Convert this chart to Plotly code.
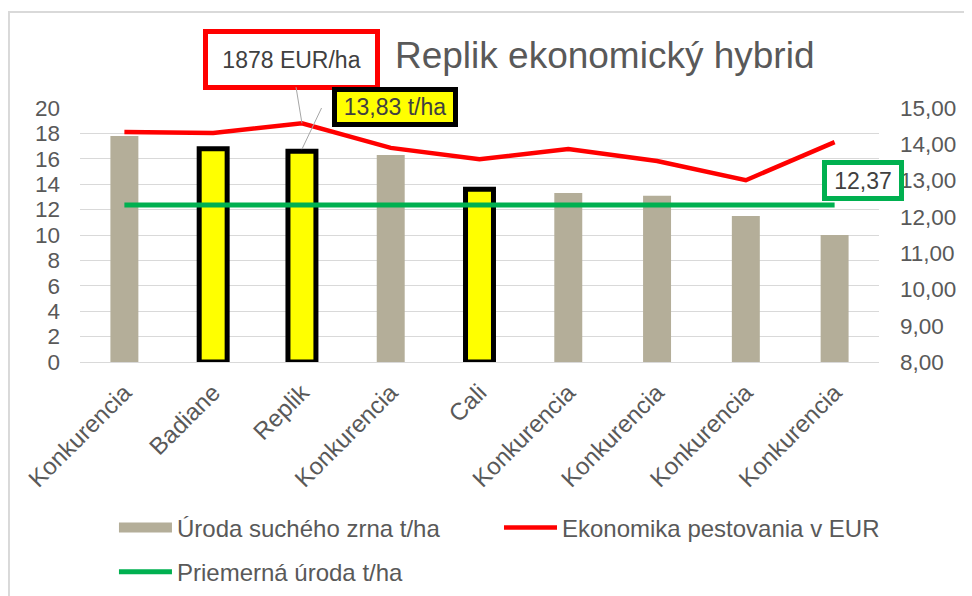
import plotly.graph_objects as go

# ---- data ----
categories = ["Konkurencia", "Badiane", "Replik", "Konkurencia", "Cali",
              "Konkurencia", "Konkurencia", "Konkurencia", "Konkurencia"]
yield_t_ha = [17.8, 16.8, 16.6, 16.3, 13.6, 13.3, 13.1, 11.5, 10.0]
economics = [14.34, 14.31, 14.58, 13.90, 13.59, 13.87, 13.54, 13.01, 14.06]
avg_yield = [12.37, 12.37, 12.37, 12.37, 12.37, 12.37, 12.37, 12.37, 12.37]
highlight = [False, True, True, False, True, False, False, False, False]

left_ticks = [0, 2, 4, 6, 8, 10, 12, 14, 16, 18, 20]
right_ticks = [8, 9, 10, 11, 12, 13, 14, 15]

label_eur = "1878 EUR/ha"
label_replik = "13,83 t/ha"
label_avg = "12,37"

name_yield = "Úroda suchého zrna t/ha"
name_econ = "Ekonomika pestovania v EUR"
name_avg = "Priemerná úroda t/ha"

# ---- styles ----
FONT = "Liberation Sans, Arial, sans-serif"
GREY_TXT = "#595959"
DARK_TXT = "#404040"
BAR_GREY = "#B4AE99"
YELLOW = "#FFFF00"
RED = "#FF0000"
GREEN = "#00B050"
GRID = "#D9D9D9"

xs = list(range(len(categories)))
bar_colors = [YELLOW if h else BAR_GREY for h in highlight]
bar_line_w = [5 if h else 0 for h in highlight]

fig = go.Figure()
fig.add_trace(go.Bar(
    x=xs, y=yield_t_ha, name=name_yield, showlegend=False,
    marker=dict(color=bar_colors, line=dict(color="black", width=bar_line_w)),
    width=0.315, yaxis="y", hoverinfo="skip",
))
# legend swatch for the bar series (rectangular swatch like the original)
fig.add_trace(go.Scatter(
    x=[None], y=[None], name=name_yield, mode="lines",
    line=dict(color=BAR_GREY, width=15), legend="legend",
))
fig.add_trace(go.Scatter(
    x=xs, y=economics, name=name_econ, mode="lines",
    line=dict(color=RED, width=4.5), yaxis="y2", legend="legend2",
))
fig.add_trace(go.Scatter(
    x=xs, y=avg_yield, name=name_avg, mode="lines",
    line=dict(color=GREEN, width=5), yaxis="y", legend="legend3",
))

i_rep = categories.index("Replik")
last = len(categories) - 1

annotations = [
    dict(x=i_rep, y=economics[i_rep], xref="x", yref="y2", text=label_eur,
         showarrow=True, arrowhead=0, arrowwidth=1, arrowcolor="#A6A6A6",
         ax=-10.5, ay=-64, standoff=0,
         bgcolor="white", bordercolor=RED, borderwidth=5, borderpad=0,
         width=167, height=51,
         font=dict(family=FONT, size=23, color=DARK_TXT)),
    dict(x=i_rep, y=yield_t_ha[i_rep], xref="x", yref="y", text=label_replik,
         showarrow=False, xshift=93.5, yshift=44,
         bgcolor=YELLOW, bordercolor="black", borderwidth=5, borderpad=0,
         width=116, height=30,
         font=dict(family=FONT, size=23, color=DARK_TXT)),
    dict(x=last, y=avg_yield[last], xref="x", yref="y", text=label_avg,
         showarrow=False, xshift=28, yshift=24.5,
         bgcolor="white", bordercolor=GREEN, borderwidth=5, borderpad=0,
         width=72, height=31,
         font=dict(family=FONT, size=23, color=DARK_TXT)),
]

shapes = [
    dict(type="path", xref="x", yref="y", xsizemode="pixel", ysizemode="pixel",
         xanchor=i_rep, yanchor=yield_t_ha[i_rep],
         path="M0,2 L20,44 L31,44", line=dict(color="#A6A6A6", width=1)),
    dict(type="rect", xref="paper", yref="paper",
         x0=-0.0889, x1=1.2, y0=-1.2, y1=1.378,
         line=dict(color=GRID, width=2), fillcolor="rgba(0,0,0,0)", layer="below"),
]

legend_common = dict(orientation="h", xanchor="left", yanchor="middle",
                     font=dict(family=FONT, size=24, color=GREY_TXT),
                     itemwidth=53, bgcolor="rgba(0,0,0,0)")

fig.update_layout(
    width=964, height=588,
    margin=dict(l=72, r=93, t=100, b=234, autoexpand=False),
    paper_bgcolor="white", plot_bgcolor="white",
    separators=", ",
    font=dict(family=FONT, size=23, color=GREY_TXT),
    title=dict(text="Replik ekonomický hybrid", x=0.619, xanchor="center",
               y=0.920, yanchor="middle", xref="container", yref="container",
               font=dict(family=FONT, size=37, color=GREY_TXT)),
    showlegend=True,
    legend=dict(x=0.0425, y=-0.6535, **legend_common),
    legend2=dict(x=0.5244, y=-0.6535, **legend_common),
    legend3=dict(x=0.0425, y=-0.827, **legend_common),
    xaxis=dict(tickmode="array", tickvals=xs, ticktext=categories,
               tickangle=-45, range=[-0.5, last + 0.5], automargin=False,
               showline=True, linecolor=GRID, linewidth=1, showgrid=False,
               ticks="", ticklabelstandoff=6,
               tickfont=dict(family=FONT, size=24, color=GREY_TXT)),
    yaxis=dict(range=[0, 20], tickmode="array", tickvals=left_ticks, automargin=False,
               showgrid=True, gridcolor=GRID, gridwidth=1.3, zeroline=False,
               showline=False, ticks="", ticklabelstandoff=19,
               tickfont=dict(family=FONT, size=22.5, color=GREY_TXT)),
    yaxis2=dict(range=[8, 15], tickmode="array", tickvals=right_ticks, automargin=False,
                tickformat=".2f", overlaying="y", side="right",
                showgrid=False, zeroline=False, showline=False, ticks="",
                ticklabelstandoff=20,
                tickfont=dict(family=FONT, size=22.5, color=GREY_TXT)),
    annotations=annotations,
    shapes=shapes,
)

fig.write_html("out.html")
